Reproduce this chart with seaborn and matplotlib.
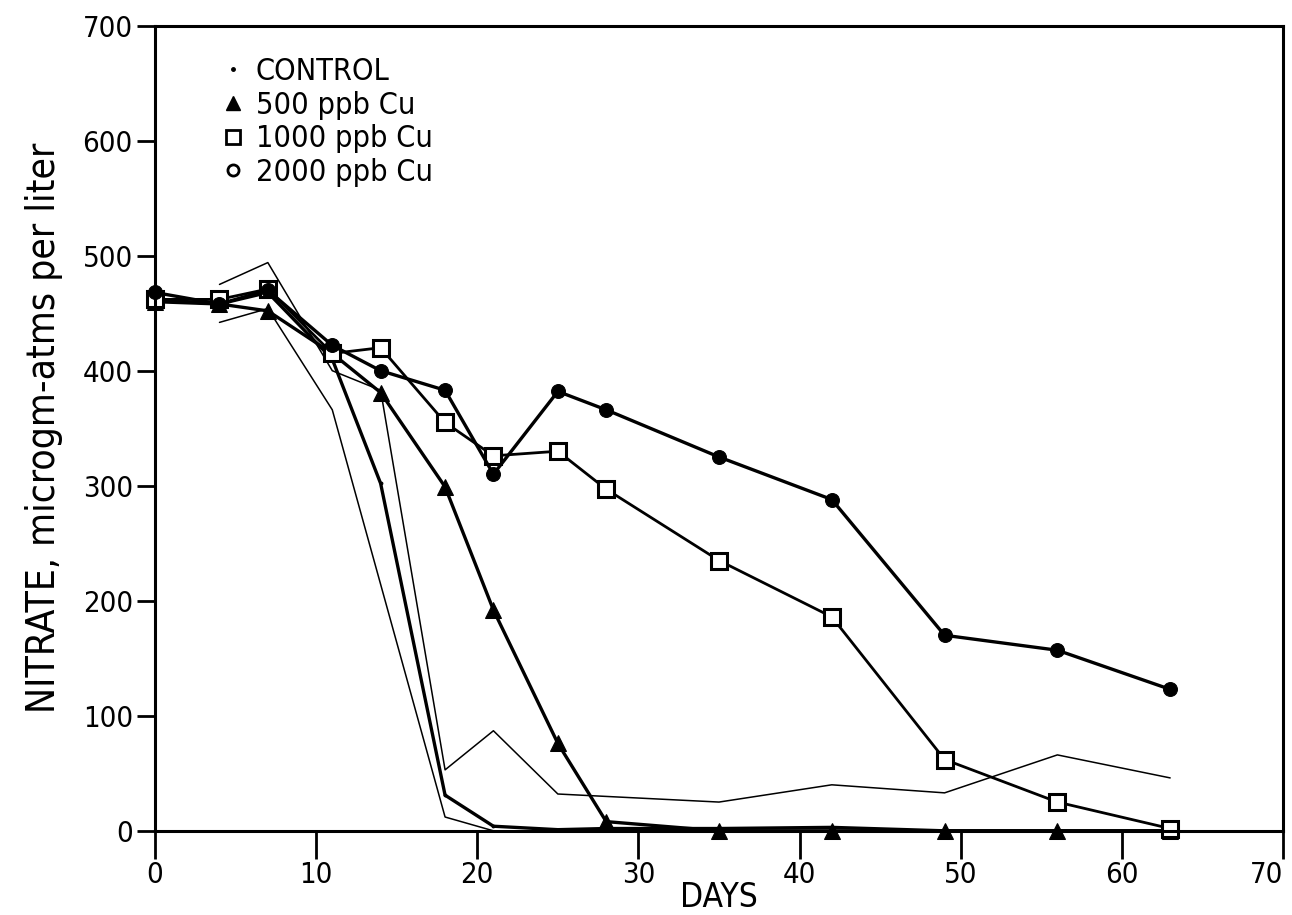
import matplotlib
matplotlib.use("Agg")
import matplotlib.pyplot as plt
from matplotlib.lines import Line2D
import seaborn as sns

# sampling days
days = [0, 4, 7, 11, 14, 18, 21, 25, 28, 35, 42, 49, 56, 63]

# nitrate, microgm-atms per liter
control = [462, 458, 468, 410, 302, 31, 4, 1, 2, 2, 3, 0, 0, 0]
cu_500 = [460, 458, 452, 415, 381, 299, 192, 76, 8, 0, 0, 0, 0, 0]
cu_1000 = [462, 462, 471, 415, 420, 355, 326, 330, 297, 235, 186, 62, 25, 2]
cu_2000 = [468, 458, 470, 422, 400, 383, 310, 382, 366, 325, 288, 170, 157, 123]

# thin unmarked lines (control replicates)
rep_a_days = [4, 7, 11, 14, 18, 21, 25, 35, 42, 49, 56, 63]
rep_a = [475, 494, 400, 383, 53, 87, 32, 25, 40, 33, 66, 46]
rep_b_days = [4, 7, 11, 18, 21]
rep_b = [442, 454, 366, 12, 0]

sns.set_style("ticks")
plt.rcParams['font.family'] = ['DejaVu Sans']
plt.rcParams['font.stretch'] = 'condensed'
plt.rcParams['text.color'] = 'black'
plt.rcParams['axes.labelcolor'] = 'black'
plt.rcParams['xtick.color'] = 'black'
plt.rcParams['ytick.color'] = 'black'

fig = plt.figure(figsize=(12.92, 9.15), dpi=100)
ax = fig.add_axes([0.12, 0.092, 0.873, 0.88])

sns.lineplot(x=rep_a_days, y=rep_a, ax=ax, color='black', lw=1.1)
sns.lineplot(x=rep_b_days, y=rep_b, ax=ax, color='black', lw=1.1)
sns.lineplot(x=days, y=control, ax=ax, color='black', lw=2.4,
             marker='.', markersize=4, markeredgecolor='black')
sns.lineplot(x=days, y=cu_500, ax=ax, color='black', lw=2.4,
             marker='^', markersize=11, markeredgecolor='black', clip_on=False)
sns.lineplot(x=days, y=cu_1000, ax=ax, color='black', lw=2.0,
             marker='s', markersize=11, markerfacecolor='white',
             markeredgecolor='black', markeredgewidth=2.2, clip_on=False)
sns.lineplot(x=days, y=cu_2000, ax=ax, color='black', lw=2.4,
             marker='o', markersize=10, markeredgecolor='black', clip_on=False)

ax.set_xlim(0, 70)
ax.set_ylim(0, 700)
ax.set_xticks(range(0, 71, 10))
ax.set_yticks(range(0, 701, 100))
for s in ax.spines.values():
    s.set_linewidth(2.2)
    s.set_color('black')
ax.tick_params(axis='x', direction='out', length=20, width=2, labelsize=21, pad=2)
ax.tick_params(axis='y', direction='out', length=13, width=2, labelsize=21, pad=3)
ax.get_xticklabels()[-1].set_horizontalalignment('right')

ax.set_xlabel('DAYS', fontsize=24, labelpad=-6)
ax.set_ylabel('NITRATE, microgm-atms per liter', fontsize=28, labelpad=14)

handles = [
    Line2D([], [], ls='none', marker='.', color='black', markersize=5),
    Line2D([], [], ls='none', marker='^', color='black', markersize=10),
    Line2D([], [], ls='none', marker='s', markerfacecolor='white',
           markeredgecolor='black', markeredgewidth=2, markersize=10),
    Line2D([], [], ls='none', marker='o', markerfacecolor='white',
           markeredgecolor='black', markeredgewidth=2, markersize=8),
]
labels = ['CONTROL', '500 ppb Cu', '1000 ppb Cu', '2000 ppb Cu']
ax.legend(handles, labels, loc='upper left', bbox_to_anchor=(0.035, 0.995),
          frameon=False, fontsize=22, handlelength=0.7, handletextpad=0.4,
          labelspacing=0.15)

fig.savefig('out.png', dpi=100)
